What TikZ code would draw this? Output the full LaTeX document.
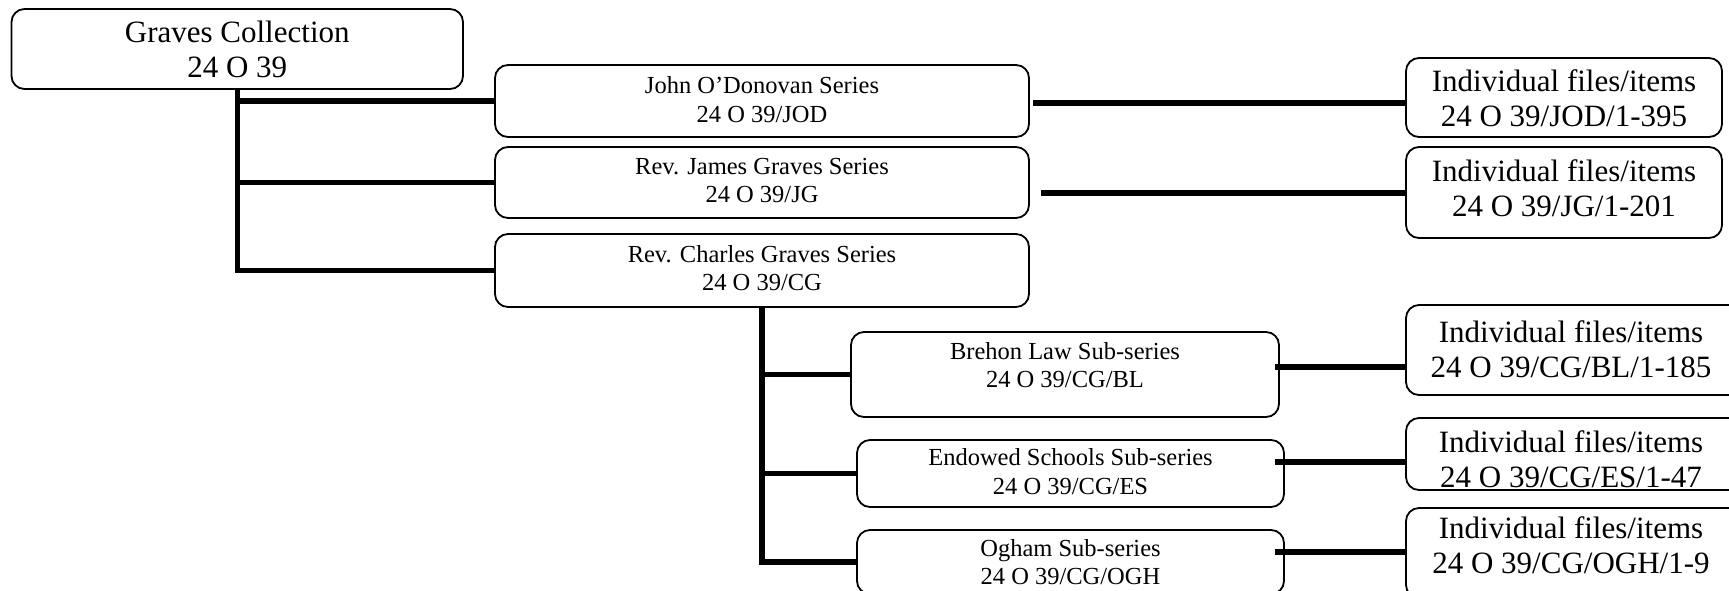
\documentclass[tikz,border=0pt]{standalone}
\usepackage{fontspec}
\setmainfont{Liberation Serif}
\begin{document}
\begin{tikzpicture}[x=1pt,y=-1pt,
  box/.style n args={2}{draw=black, line width=1.8pt, rounded corners=13pt,
    inner sep=0pt, outer sep=0pt, minimum width=#1pt, minimum height=#2pt},
  conn/.style={draw=black, line width=5.5pt, line join=miter},
  bigtxt/.style={align=center, inner sep=0pt, font=\fontsize{31}{35}\selectfont},
  smalltxt/.style={align=center, inner sep=0pt, font=\fontsize{24.5}{28.5}\selectfont}]
\useasboundingbox (0,0) rectangle (1729,590);

% top level
\node[box={451.5}{80}] (graves) at (237.25,49) {};
\node[bigtxt] (gravest) at (237.25,49.5) {Graves Collection\\24 O 39};

% series
\node[box={534}{72}] (jod) at (762,101) {};
\node[smalltxt] (jodt) at (762,99.5) {John O’Donovan Series\\24 O 39/JOD};
\node[box={534}{71}] (jg) at (762,182.5) {};
\node[smalltxt] (jgt) at (762,180.5) {Rev. James Graves Series\\24 O 39/JG};
\node[box={534}{73}] (cg) at (762,270.5) {};
\node[smalltxt] (cgt) at (762,268) {Rev. Charles Graves Series\\24 O 39/CG};

% sub-series
\node[box={428}{85}] (bl) at (1065,374.5) {};
\node[smalltxt] (blt) at (1065,365) {Brehon Law Sub-series\\24 O 39/CG/BL};
\node[box={427}{67}] (es) at (1070.5,473.5) {};
\node[smalltxt] (est) at (1070.5,471.5) {Endowed Schools Sub-series\\24 O 39/CG/ES};
\node[box={427}{64}] (ogh) at (1070.5,562) {};
\node[smalltxt] (oght) at (1070.5,562) {Ogham Sub-series\\24 O 39/CG/OGH};

% individual files/items
\node[box={316}{79}] (ijod) at (1564,97.5) {};
\node[bigtxt] (ijodt) at (1564,98.5) {Individual files/items\\24 O 39/JOD/1-395};
\node[box={316}{91}] (ijg) at (1564,192.5) {};
\node[bigtxt] (ijgt) at (1564,188) {Individual files/items\\24 O 39/JG/1-201};
\node[box={350}{90}] (ibl) at (1581,350) {};
\node[bigtxt] (iblt) at (1571,349.5) {Individual files/items\\24 O 39/CG/BL/1-185};
\node[box={350}{72}] (ies) at (1581,454) {};
\begin{scope}
  \clip[rounded corners=13pt] (ies.north west) rectangle (ies.south east);
  \node[bigtxt] (iest) at (1571,459.5) {Individual files/items\\24 O 39/CG/ES/1-47};
\end{scope}
\node[box={350}{90}] (iogh) at (1581,553) {};
\node[bigtxt] (ioght) at (1571,545.5) {Individual files/items\\24 O 39/CG/OGH/1-9};

% tree connectors
\draw[conn] (graves.south) |- (cg.west);
\draw[conn] (graves.south |- jod.west) -- (jod.west);
\draw[conn] (graves.south |- jg.west) -- (jg.west);

\draw[conn] (cg.south) |- (ogh.west);
\draw[conn] (cg.south |- bl.west) -- (bl.west);
\draw[conn] (cg.south |- es.west) -- (es.west);

% right-hand connectors
\coordinate (rjod) at (1033,103);
\coordinate (rjg) at (1041,193);
\coordinate (rbl) at (1275,367);
\coordinate (res) at (1275,462);
\coordinate (rogh) at (1275,552);
\draw[conn] (rjod) -- (rjod -| ijod.west);
\draw[conn] (rjg) -- (rjg -| ijg.west);
\draw[conn] (rbl) -- (rbl -| ibl.west);
\draw[conn] (res) -- (res -| ies.west);
\draw[conn] (rogh) -- (rogh -| iogh.west);
\end{tikzpicture}
\end{document}
